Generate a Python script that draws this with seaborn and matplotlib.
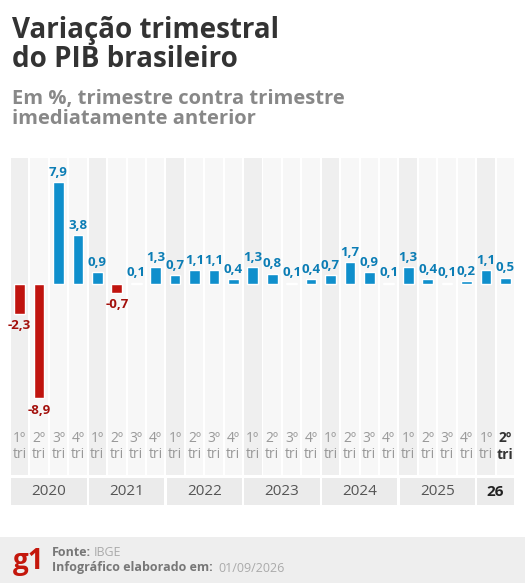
import numpy as np
import pandas as pd
import seaborn as sns
import matplotlib.pyplot as plt
from matplotlib.patches import Rectangle

quarters = ["1º", "2º", "3º", "4º"] * 6 + ["1º", "2º"]
years = ["2020", "2021", "2022", "2023", "2024", "2025", "26"]
values = [-2.3, -8.9, 7.9, 3.8, 0.9, -0.7, 0.1, 1.3, 0.7, 1.1, 1.1, 0.4,
          1.3, 0.8, 0.1, 0.4, 0.7, 1.7, 0.9, 0.1, 1.3, 0.4, 0.1, 0.2, 1.1, 0.5]

df = pd.DataFrame({"pos": range(len(values)), "valor": values})
df["cor"] = np.where(df["valor"] < 0, "neg", "pos")
BLUE, RED = "#0f8fcc", "#c0140f"

sns.set_theme(style="white")
plt.rcParams["font.family"] = ["Open Sans", "DejaVu Sans"]

W, H = 525, 583
fig = plt.figure(figsize=(W / 100, H / 100), dpi=100)
ax = fig.add_axes([10 / W, 1 - 475 / H, 505 / W, 317 / H])
n = len(values)
YMIN, YMAX = -14.86, 9.8

# faixas de fundo
for i in range(n):
    c = "#efefef" if i % 4 == 0 else "#f7f7f7"
    ax.add_patch(Rectangle((i - 0.45, YMIN), 0.9, YMAX - YMIN, color=c, zorder=0, lw=0))

sns.barplot(data=df, x="pos", y="valor", hue="cor", palette={"pos": BLUE, "neg": RED},
            dodge=False, legend=False, width=0.55, ax=ax, zorder=2, native_scale=True,
            saturation=1)
ax.set_xlim(-0.5, n - 0.5)
ax.set_ylim(YMIN, YMAX)
ax.axis("off")

for i, v in enumerate(values):
    lbl = f"{v:.1f}".replace(".", ",")
    if v >= 0:
        ax.text(i, v + 0.25, lbl, ha="center", va="bottom", color="#0b7db5",
                fontsize=9.5, fontweight="bold", zorder=3)
    else:
        ax.text(i, v - 0.4, lbl, ha="center", va="top", color="#a3100c",
                fontsize=9.5, fontweight="bold", zorder=3)
    last = i == n - 1
    col = "#333333" if last else "#999999"
    fw = "bold" if last else "normal"
    ax.text(i, -12.0, quarters[i], ha="center", va="center", fontsize=10, color=col, fontweight=fw)
    ax.text(i, -13.3, "tri", ha="center", va="center", fontsize=10, color=col, fontweight=fw)

# faixa dos anos
yax = fig.add_axes([10 / W, 1 - 505 / H, 505 / W, 27 / H])
yax.set_xlim(-0.5, n - 0.5)
yax.set_ylim(0, 1)
yax.axis("off")
start = 0
for y in years:
    k = 2 if y == "26" else 4
    yax.add_patch(Rectangle((start - 0.5 + 0.06, 0), k - 0.12, 1, color="#ebebeb", lw=0))
    yax.text(start - 0.5 + k / 2, 0.5, y, ha="center", va="center", fontsize=11,
             color="#222222" if y == "26" else "#555555",
             fontweight="bold" if y == "26" else "normal")
    start += k

fig.text(12 / W, 1 - 45 / H, "Variação trimestral\ndo PIB brasileiro", fontsize=20,
         fontweight="bold", color="#333333", va="center", linespacing=1.0)
fig.text(12 / W, 1 - 109 / H, "Em %, trimestre contra trimestre\nimediatamente anterior",
         fontsize=14.5, fontweight="bold", color="#888888", va="center", linespacing=1.05)

fig.patches.append(Rectangle((0, 0), 1, 46 / H, transform=fig.transFigure,
                             color="#eeeeee", lw=0))
fig.text(13 / W, 22 / H, "g1", fontsize=20, fontweight="bold", color="#c4170c", va="center")
fig.text(52 / W, 30 / H, "Fonte:", fontsize=9, fontweight="bold", color="#777777", va="center")
fig.text(94 / W, 30 / H, "IBGE", fontsize=9, color="#aaaaaa", va="center")
fig.text(52 / W, 15 / H, "Infográfico elaborado em:", fontsize=9, fontweight="bold",
         color="#777777", va="center")
fig.text(218 / W, 15 / H, "01/09/2026", fontsize=9, color="#aaaaaa", va="center")

fig.savefig("out.png", dpi=100)
